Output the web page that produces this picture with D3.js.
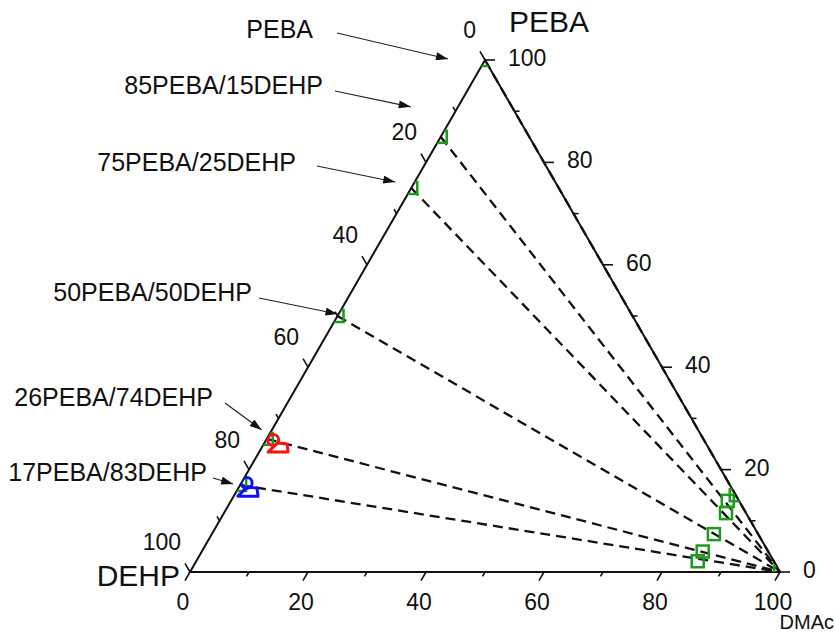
<!DOCTYPE html>
<html>
<head>
<meta charset="utf-8">
<script src="https://cdn.jsdelivr.net/npm/d3@7"></script>
<style>
  body { margin: 0; background: #fff; }
  text { font-family: "Liberation Sans", Arial, sans-serif; fill: #111; }
</style>
</head>
<body>
<div id="chart"></div>
<script>
// ---- data (wt %) ----
// blend compositions on the PEBA-DEHP side
var blendLabels = ["PEBA", "85PEBA/15DEHP", "75PEBA/25DEHP", "50PEBA/50DEHP", "26PEBA/74DEHP", "17PEBA/83DEHP"];
var blendPEBA = [100, 85, 75, 50, 26, 17];
var blendDEHP = [0, 15, 25, 50, 74, 83];

// casting solutions near the DMAc corner
var solPEBA = [15.0, 13.9, 11.5, 7.4, 4.0, 2.1];
var solDEHP = [0.0, 1.9, 3.4, 7.5, 11.1, 12.9];
var solDMAc = [85.0, 84.2, 85.1, 85.1, 84.9, 85.0];

// red and blue points (26/74 and 17/83 systems)
var redPEBA = [25.8, 24.2];
var redDMAc = [1.2, 3.0];
var bluePEBA = [17.4, 15.6];
var blueDMAc = [0.9, 2.2];

// ticks
var majorTicks = [0, 20, 40, 60, 80, 100];
var minorTicks = [10, 30, 50, 70, 90];

// ---- work area ----
var svgWidth = 835;
var svgHeight = 635;

var svg = d3.select("#chart")
    .append("svg")
    .attr("width", svgWidth)
    .attr("height", svgHeight);

// horizontal coordinate = DMAc + PEBA/2, vertical = PEBA
var xScale = d3.scaleLinear().domain([0, 100]).range([190, 780]);
var yScale = d3.scaleLinear().domain([0, 100]).range([572, 60]);

function pos(a, c) {
    return [xScale(c + a / 2), yScale(a)];
}

var green = "#1e9a1e";

// arrowhead
svg.append("defs").append("marker")
    .attr("id", "arrow")
    .attr("viewBox", "0 0 12 8")
    .attr("refX", 12)
    .attr("refY", 4)
    .attr("markerUnits", "userSpaceOnUse")
    .attr("markerWidth", 13)
    .attr("markerHeight", 8)
    .attr("orient", "auto")
    .append("path")
    .attr("d", "M0,0 L12,4 L0,8 Z")
    .attr("fill", "#111");

// clip to triangle
var vTop = pos(100, 0), vLeft = pos(0, 0), vRight = pos(0, 100);
svg.select("defs").append("clipPath")
    .attr("id", "tri")
    .append("polygon")
    .attr("points", [vTop, vLeft, vRight].map(p => p.join(",")).join(" "));

// ---- dashed dilution lines ----
svg.append("g").selectAll("line")
    .data(blendPEBA)
    .enter()
    .append("line")
    .attr("x1", d => pos(d, 0)[0])
    .attr("y1", d => pos(d, 0)[1])
    .attr("x2", vRight[0])
    .attr("y2", vRight[1])
    .attr("stroke", "#111")
    .attr("stroke-width", 2.3)
    .attr("stroke-dasharray", "10,6");

// ---- axes ----
var axisG = svg.append("g");
axisG.append("polygon")
    .attr("points", [vTop, vLeft, vRight].map(p => p.join(",")).join(" "))
    .attr("fill", "none")
    .attr("stroke", "#111")
    .attr("stroke-width", 2);

// tick directions
var dirLeft = [-0.5, -0.866];   // DEHP axis
var dirBottom = [-0.5, 0.866];  // DMAc axis
var dirRight = [1, 0];          // PEBA axis

function drawTicks(vals, len, pointFn, dir) {
    axisG.append("g").selectAll("line")
        .data(vals)
        .enter()
        .append("line")
        .attr("x1", d => pointFn(d)[0])
        .attr("y1", d => pointFn(d)[1])
        .attr("x2", d => pointFn(d)[0] + dir[0] * len)
        .attr("y2", d => pointFn(d)[1] + dir[1] * len)
        .attr("stroke", "#111")
        .attr("stroke-width", 1.6);
}

var leftPt = d => pos(100 - d, 0);
var bottomPt = d => pos(0, d);
var rightPt = d => pos(d, 100 - d);

drawTicks(majorTicks, 10, leftPt, dirLeft);
drawTicks(minorTicks, 5, leftPt, dirLeft);
drawTicks(majorTicks, 10, bottomPt, dirBottom);
drawTicks(minorTicks, 5, bottomPt, dirBottom);
drawTicks(majorTicks, 10, rightPt, dirRight);
drawTicks(minorTicks, 5, rightPt, dirRight);

// tick labels
axisG.append("g").selectAll("text")
    .data(majorTicks)
    .enter()
    .append("text")
    .attr("x", d => leftPt(d)[0] - 9)
    .attr("y", d => leftPt(d)[1] - 30)
    .attr("text-anchor", "end")
    .attr("dominant-baseline", "central")
    .attr("font-size", "23px")
    .text(d => d);

axisG.append("g").selectAll("text")
    .data(majorTicks)
    .enter()
    .append("text")
    .attr("x", d => bottomPt(d)[0] - 7)
    .attr("y", d => bottomPt(d)[1] + 30)
    .attr("text-anchor", "middle")
    .attr("dominant-baseline", "central")
    .attr("font-size", "23px")
    .text(d => d);

axisG.append("g").selectAll("text")
    .data(majorTicks)
    .enter()
    .append("text")
    .attr("x", d => rightPt(d)[0] + 23)
    .attr("y", d => rightPt(d)[1] - 2)
    .attr("text-anchor", "start")
    .attr("dominant-baseline", "central")
    .attr("font-size", "23px")
    .text(d => d);

// axis titles
svg.append("text")
    .attr("x", 509).attr("y", 21)
    .attr("dominant-baseline", "central")
    .attr("font-size", "30px")
    .text("PEBA");
svg.append("text")
    .attr("x", 180).attr("y", 575)
    .attr("text-anchor", "end")
    .attr("dominant-baseline", "central")
    .attr("font-size", "30px")
    .text("DEHP");
svg.append("text")
    .attr("x", 834).attr("y", 622)
    .attr("text-anchor", "end")
    .attr("dominant-baseline", "central")
    .attr("font-size", "20px")
    .text("DMAc");

// ---- markers (clipped by the triangle) ----
var markG = svg.append("g").attr("clip-path", "url(#tri)");
var sq = 12;

markG.append("g").selectAll("rect")
    .data(blendPEBA)
    .enter()
    .append("rect")
    .attr("x", d => pos(d, 0)[0] - sq / 2)
    .attr("y", d => pos(d, 0)[1] - sq / 2)
    .attr("width", sq)
    .attr("height", sq)
    .attr("fill", "none")
    .attr("stroke", green)
    .attr("stroke-width", 2.5);

markG.append("g").selectAll("rect")
    .data(solPEBA)
    .enter()
    .append("rect")
    .attr("x", (d, i) => pos(d, solDMAc[i])[0] - sq / 2)
    .attr("y", (d, i) => pos(d, solDMAc[i])[1] - sq / 2)
    .attr("width", sq)
    .attr("height", sq)
    .attr("fill", "none")
    .attr("stroke", green)
    .attr("stroke-width", 2.5);

// solvent corner
markG.append("rect")
    .attr("x", vRight[0] - sq / 2)
    .attr("y", vRight[1] - sq / 2)
    .attr("width", sq)
    .attr("height", sq)
    .attr("fill", "none")
    .attr("stroke", green)
    .attr("stroke-width", 2.5);

function drawPair(peba, dmac, color) {
    var p0 = pos(peba[0], dmac[0]);
    markG.append("circle")
        .attr("cx", p0[0]).attr("cy", p0[1])
        .attr("r", 5.5)
        .attr("fill", "none")
        .attr("stroke", color)
        .attr("stroke-width", 3);
    var p1 = pos(peba[1], dmac[1]);
    markG.append("path")
        .attr("transform", `translate(${p1[0]}, ${p1[1]})`)
        .attr("d", "M-11,4 L9,4 L8,-4 L-2,-5 Z")
        .attr("fill", "none")
        .attr("stroke", color)
        .attr("stroke-width", 3)
        .attr("stroke-linejoin", "round");
}
drawPair(redPEBA, redDMAc, "#ff1010");
drawPair(bluePEBA, blueDMAc, "#1010ff");

// ---- annotations ----
var labelEnd = [[313, 29], [323, 85], [296, 162], [252, 292], [213, 397], [207, 472]];
var arrowStart = [[337, 33], [335, 91], [317, 166], [259, 298], [225, 403], [213, 478]];
var arrowOffset = [[-37, -1], [-30, -30], [-16, -6], [0, -2], [-5, -9], [-7, -1]];

var annG = svg.append("g");
annG.selectAll("text")
    .data(blendLabels)
    .enter()
    .append("text")
    .attr("x", (d, i) => labelEnd[i][0])
    .attr("y", (d, i) => labelEnd[i][1])
    .attr("text-anchor", "end")
    .attr("dominant-baseline", "central")
    .attr("font-size", "25px")
    .text(d => d);

annG.selectAll("line")
    .data(blendPEBA)
    .enter()
    .append("line")
    .attr("x1", (d, i) => arrowStart[i][0])
    .attr("y1", (d, i) => arrowStart[i][1])
    .attr("x2", (d, i) => pos(d, 0)[0] + arrowOffset[i][0])
    .attr("y2", (d, i) => pos(d, 0)[1] + arrowOffset[i][1])
    .attr("stroke", "#222")
    .attr("stroke-width", 1.2)
    .attr("marker-end", "url(#arrow)");
</script>
</body>
</html>
